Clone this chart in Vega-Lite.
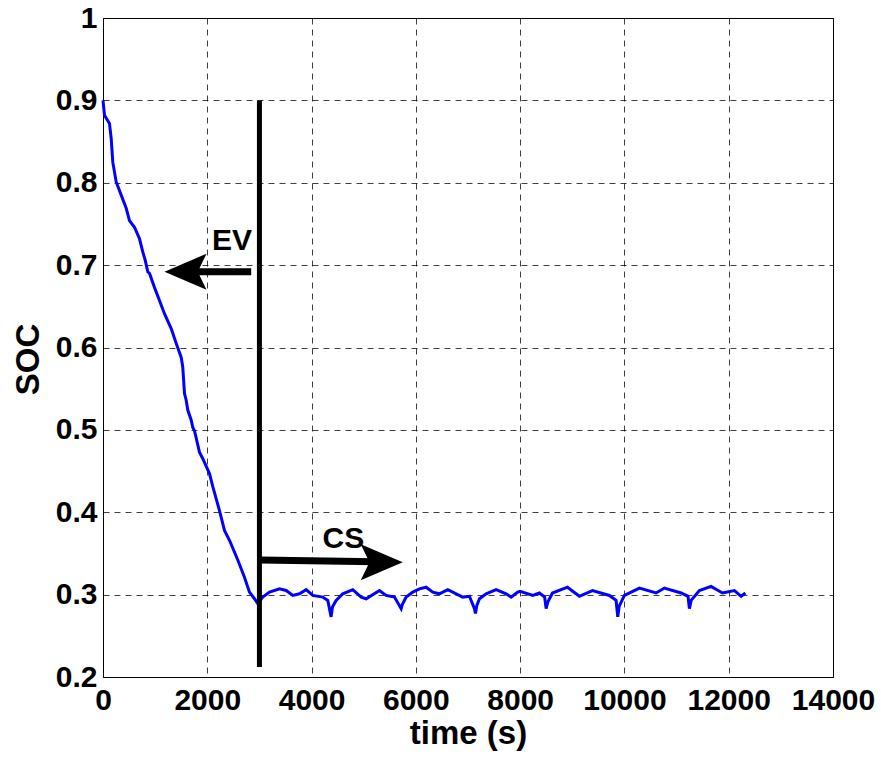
{
  "$schema": "https://vega.github.io/schema/vega-lite/v6.json",
  "width": 730,
  "height": 659,
  "autosize": {"type": "none"},
  "padding": {"left": 103, "top": 18, "right": 48, "bottom": 86},
  "background": "white",
  "config": {
    "view": {"stroke": "black", "strokeWidth": 1},
    "axis": {
      "labelFont": "Liberation Sans",
      "labelFontWeight": "bold",
      "labelFontSize": 30,
      "labelColor": "black",
      "titleFont": "Liberation Sans",
      "titleFontWeight": "bold",
      "titleFontSize": 33,
      "titleColor": "black",
      "domainColor": "black",
      "domainWidth": 1,
      "ticks": false,
      "gridColor": "#000000",
      "gridOpacity": 0.75,
      "gridDash": [6, 5],
      "gridWidth": 1,
      "labelFlush": false,
      "labelOverlap": false
    }
  },
  "datasets": {
    "soc": [
      {"t": 0, "soc": 0.9}, {"t": 29, "soc": 0.882}, {"t": 124, "soc": 0.872}, {"t": 157, "soc": 0.854},
      {"t": 188, "soc": 0.825}, {"t": 253, "soc": 0.801}, {"t": 349, "soc": 0.785}, {"t": 445, "soc": 0.769},
      {"t": 508, "soc": 0.754}, {"t": 604, "soc": 0.746}, {"t": 700, "soc": 0.732}, {"t": 763, "soc": 0.716},
      {"t": 809, "soc": 0.706}, {"t": 859, "soc": 0.692}, {"t": 892, "soc": 0.69}, {"t": 987, "soc": 0.673},
      {"t": 1083, "soc": 0.657}, {"t": 1179, "soc": 0.641}, {"t": 1308, "soc": 0.623}, {"t": 1404, "soc": 0.605},
      {"t": 1500, "soc": 0.588}, {"t": 1530, "soc": 0.576}, {"t": 1563, "soc": 0.544}, {"t": 1595, "soc": 0.536},
      {"t": 1626, "soc": 0.524}, {"t": 1691, "soc": 0.512}, {"t": 1722, "soc": 0.503}, {"t": 1755, "soc": 0.499},
      {"t": 1850, "soc": 0.473}, {"t": 1914, "soc": 0.465}, {"t": 2042, "soc": 0.447}, {"t": 2106, "soc": 0.431},
      {"t": 2234, "soc": 0.402}, {"t": 2330, "soc": 0.378}, {"t": 2426, "soc": 0.366}, {"t": 2585, "soc": 0.342},
      {"t": 2713, "soc": 0.321}, {"t": 2809, "soc": 0.303}, {"t": 2905, "soc": 0.295}, {"t": 2968, "soc": 0.289},
      {"t": 3064, "soc": 0.297}, {"t": 3193, "soc": 0.303}, {"t": 3385, "soc": 0.307}, {"t": 3513, "soc": 0.305},
      {"t": 3640, "soc": 0.299}, {"t": 3768, "soc": 0.301}, {"t": 3896, "soc": 0.306}, {"t": 4023, "soc": 0.299},
      {"t": 4215, "soc": 0.297}, {"t": 4311, "soc": 0.293}, {"t": 4375, "soc": 0.273}, {"t": 4400, "soc": 0.285},
      {"t": 4471, "soc": 0.293}, {"t": 4599, "soc": 0.301}, {"t": 4790, "soc": 0.306}, {"t": 4951, "soc": 0.297},
      {"t": 5047, "soc": 0.295}, {"t": 5302, "soc": 0.305}, {"t": 5430, "soc": 0.299}, {"t": 5590, "soc": 0.297},
      {"t": 5718, "soc": 0.283}, {"t": 5740, "soc": 0.288}, {"t": 5814, "soc": 0.297}, {"t": 5941, "soc": 0.303},
      {"t": 6069, "soc": 0.307}, {"t": 6197, "soc": 0.309}, {"t": 6324, "soc": 0.303}, {"t": 6452, "soc": 0.301},
      {"t": 6612, "soc": 0.306}, {"t": 6773, "soc": 0.301}, {"t": 6900, "soc": 0.297}, {"t": 7028, "soc": 0.298},
      {"t": 7124, "soc": 0.283}, {"t": 7143, "soc": 0.277}, {"t": 7170, "soc": 0.287}, {"t": 7220, "soc": 0.295},
      {"t": 7348, "soc": 0.301}, {"t": 7540, "soc": 0.306}, {"t": 7731, "soc": 0.301}, {"t": 7827, "soc": 0.297},
      {"t": 7954, "soc": 0.303}, {"t": 8000, "soc": 0.304}, {"t": 8242, "soc": 0.299}, {"t": 8370, "soc": 0.302},
      {"t": 8470, "soc": 0.297}, {"t": 8498, "soc": 0.283}, {"t": 8530, "soc": 0.291}, {"t": 8620, "soc": 0.302},
      {"t": 8907, "soc": 0.309}, {"t": 9137, "soc": 0.298}, {"t": 9387, "soc": 0.305}, {"t": 9712, "soc": 0.299},
      {"t": 9840, "soc": 0.293}, {"t": 9872, "soc": 0.273}, {"t": 9900, "soc": 0.286}, {"t": 10000, "soc": 0.299},
      {"t": 10288, "soc": 0.308}, {"t": 10607, "soc": 0.302}, {"t": 10767, "soc": 0.308}, {"t": 11087, "soc": 0.302},
      {"t": 11220, "soc": 0.298}, {"t": 11246, "soc": 0.283}, {"t": 11280, "soc": 0.293}, {"t": 11438, "soc": 0.305},
      {"t": 11662, "soc": 0.31}, {"t": 11880, "soc": 0.302}, {"t": 12110, "soc": 0.305}, {"t": 12238, "soc": 0.298},
      {"t": 12320, "soc": 0.302}
    ]
  },
  "layer": [
    {
      "data": {"name": "soc"},
      "mark": {"type": "line", "color": "#0000FF", "strokeWidth": 3},
      "encoding": {
        "x": {"field": "t", "type": "quantitative", "title": "time (s)",
              "scale": {"domain": [0, 14000], "nice": false},
              "axis": {"values": [0, 2000, 4000, 6000, 8000, 10000, 12000, 14000], "format": "d", "labelPadding": 8, "titlePadding": 2, "grid": true}},
        "y": {"field": "soc", "type": "quantitative", "title": "SOC",
              "scale": {"domain": [0.2, 1], "nice": false, "zero": false},
              "axis": {"values": [0.2, 0.3, 0.4, 0.5, 0.6, 0.7, 0.8, 0.9, 1], "format": "~g", "labelPadding": 6, "titlePadding": 10, "titleY": 341, "grid": true}}
      }
    },
    {
      "data": {"values": [{"t": 3000, "soc": 0.212, "soc2": 0.9}]},
      "mark": {"type": "rule", "color": "black", "strokeWidth": 5},
      "encoding": {
        "x": {"field": "t", "type": "quantitative", "title": "time (s)"},
        "y": {"field": "soc", "type": "quantitative", "title": "SOC"},
        "y2": {"field": "soc2"}
      }
    },
    {
      "data": {"values": [{"t": 1700, "t2": 2842, "soc": 0.692, "soc2": 0.692}, {"t": 3010, "t2": 5550, "soc": 0.342, "soc2": 0.3396}]},
      "mark": {"type": "rule", "color": "black", "strokeWidth": 7},
      "encoding": {
        "x": {"field": "t", "type": "quantitative", "title": "time (s)"},
        "x2": {"field": "t2"},
        "y": {"field": "soc", "type": "quantitative", "title": "SOC"},
        "y2": {"field": "soc2"}
      }
    },
    {
      "data": {"values": [{"t": 1582, "soc": 0.692}]},
      "mark": {"type": "point", "shape": "M -1 0 L 1 -0.857 L 0.586 0 L 1 0.857 Z", "size": 1764, "filled": true, "color": "black", "opacity": 1, "strokeWidth": 0},
      "encoding": {
        "x": {"field": "t", "type": "quantitative", "title": "time (s)"},
        "y": {"field": "soc", "type": "quantitative", "title": "SOC"}
      }
    },
    {
      "data": {"values": [{"t": 5346, "soc": 0.3393}]},
      "mark": {"type": "point", "shape": "M 1 0 L -1 -0.857 L -0.586 0 L -1 0.857 Z", "size": 1764, "filled": true, "color": "black", "opacity": 1, "strokeWidth": 0},
      "encoding": {
        "x": {"field": "t", "type": "quantitative", "title": "time (s)"},
        "y": {"field": "soc", "type": "quantitative", "title": "SOC"}
      }
    },
    {
      "data": {"values": [{"t": 2474, "soc": 0.729, "label": "EV"}, {"t": 4611, "soc": 0.367, "label": "CS"}]},
      "mark": {"type": "text", "font": "Liberation Sans", "fontWeight": "bold", "fontSize": 30, "color": "black", "align": "center", "baseline": "middle"},
      "encoding": {
        "x": {"field": "t", "type": "quantitative", "title": "time (s)"},
        "y": {"field": "soc", "type": "quantitative", "title": "SOC"},
        "text": {"field": "label"}
      }
    }
  ]
}
